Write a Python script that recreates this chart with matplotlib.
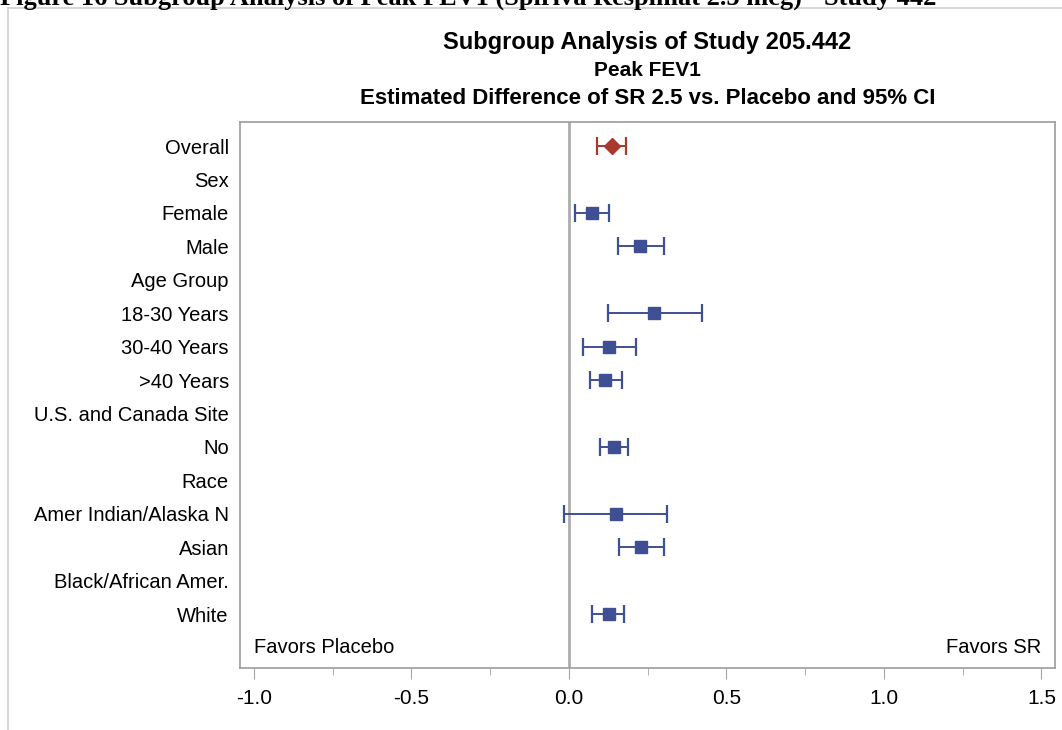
import numpy as np
import matplotlib.pyplot as plt
from matplotlib.lines import Line2D
from matplotlib.ticker import MultipleLocator

# Subgroups (top to bottom); header rows have no estimate
labels = ["Overall", "Sex", "Female", "Male", "Age Group", "18-30 Years",
          "30-40 Years", ">40 Years", "U.S. and Canada Site", "No", "Race",
          "Amer Indian/Alaska N", "Asian", "Black/African Amer.", "White"]
estimate = [0.136, None, 0.074, 0.225, None, 0.269, 0.128, 0.116, None,
            0.143, None, 0.148, 0.229, None, 0.126]
lower = [0.090, None, 0.020, 0.155, None, 0.123, 0.045, 0.068, None,
         0.100, None, -0.014, 0.159, None, 0.073]
upper = [0.181, None, 0.128, 0.302, None, 0.421, 0.214, 0.170, None,
         0.187, None, 0.311, 0.301, None, 0.176]
xticks = [-1.0, -0.5, 0.0, 0.5, 1.0, 1.5]

blue = "#3E4F94"
red = "#A8392C"
grey = "#A6A6A6"
title_font = ["Liberation Sans Narrow", "Liberation Sans", "DejaVu Sans"]

plt.rcParams["font.family"] = ["Liberation Sans", "DejaVu Sans"]

fig = plt.figure(figsize=(10.62, 7.3), dpi=100)
ax = fig.add_axes([240 / 1062, 1 - 668 / 730, 815 / 1062, 546 / 730])

ax.axvline(0, color="#ADADAD", lw=2, zorder=1)

for i, (est, lo, hi) in enumerate(zip(estimate, lower, upper)):
    if est is None:
        continue
    if i == 0:
        col, mk, ms = red, "D", 7.8
    else:
        col, mk, ms = blue, "s", 8.6
    ax.errorbar(est, i, xerr=[[est - lo], [hi - est]], fmt=mk, color=col,
                ms=ms, mec=col, mfc=col, elinewidth=1.4, capsize=6.3,
                capthick=1.6, zorder=3)

ax.set_xlim(-1.044, 1.543)
ax.set_ylim(15.615, -0.72)
ax.set_yticks(range(len(labels)))
ax.set_yticklabels(labels, fontsize=14.5)
ax.tick_params(axis="y", length=0, pad=8)

ax.xaxis.set_minor_locator(MultipleLocator(0.25))
ax.set_xticks(xticks)
ax.set_xticklabels([f"{t:.1f}" for t in xticks], fontsize=15)
ax.tick_params(axis="x", which="major", length=8, color=grey, pad=7)
ax.tick_params(axis="x", which="minor", length=5, color=grey)

for s in ax.spines.values():
    s.set_color("#9C9C9C")
    s.set_linewidth(1.2)

ax.text(-1.0, 15, "Favors Placebo", fontsize=14.5, va="center", ha="left")
ax.text(1.5, 15, "Favors SR", fontsize=14.5, va="center", ha="right")

cx = (240 + 1055) / 2 / 1062
fig.text(cx, 1 - 42 / 730, "Subgroup Analysis of Study 205.442",
         fontsize=17, fontweight="bold", ha="center", va="center",
         family=title_font)
fig.text(cx, 1 - 70 / 730, "Peak FEV1", fontsize=15, fontweight="bold",
         ha="center", va="center", family=title_font)
fig.text(cx, 1 - 98 / 730, "Estimated Difference of SR 2.5 vs. Placebo and 95% CI",
         fontsize=16, fontweight="bold", ha="center", va="center",
         family=title_font)

# document caption above the graph frame, clipped by the page edge
fig.text(0, 1 - 4.5 / 730, "Figure 16 Subgroup Analysis of Peak FEV1 (Spiriva Respimat 2.5 mcg) - Study 442",
         fontsize=19, fontweight="bold", ha="left", va="baseline",
         family=["Liberation Serif", "DejaVu Serif"])

# outer frame of the graph
fig.add_artist(Line2D([7.5 / 1062, 1], [1 - 8 / 730, 1 - 8 / 730],
                      transform=fig.transFigure, color="#CFCFCF", lw=1.2))
fig.add_artist(Line2D([7.5 / 1062, 7.5 / 1062], [0, 1 - 8 / 730],
                      transform=fig.transFigure, color="#CFCFCF", lw=1.2))

fig.savefig("out.png", dpi=100, facecolor="white")
